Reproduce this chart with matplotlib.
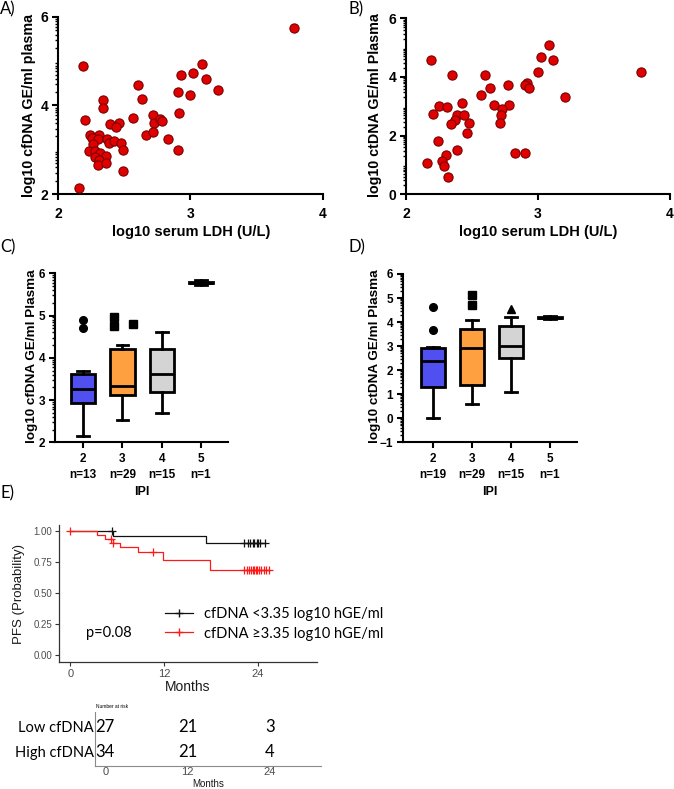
import numpy as np
import matplotlib
matplotlib.use("Agg")
import matplotlib.pyplot as plt
from matplotlib.lines import Line2D
from matplotlib.font_manager import FontProperties

W, H = 674, 789

# ---- Panel A: log10 LDH vs log10 cfDNA ----
ldh_a = [3.78, 3.087, 3.016, 2.928, 3.115, 3.21, 2.908, 2.999, 2.913,
         2.186, 2.601, 2.636, 2.342, 2.337, 2.201, 2.563, 2.72, 2.727,
         2.77, 2.787, 2.392, 2.458, 2.438, 2.664, 2.714, 2.83, 2.244,
         2.309, 2.254, 2.299, 2.367, 2.387, 2.42, 2.478, 2.267, 2.236,
         2.277, 2.493, 2.314, 2.282, 2.365, 2.312, 2.305, 2.365, 2.493,
         2.161, 2.908]
cfdna_a = [5.75, 4.94, 4.74, 4.70, 4.59, 4.35, 4.30, 4.23, 3.84,
           4.89, 4.46, 4.15, 4.13, 3.94, 3.67, 3.72, 3.79, 3.61,
           3.69, 3.66, 3.58, 3.61, 3.52, 3.34, 3.39, 3.24, 3.34,
           3.34, 3.27, 3.25, 3.24, 3.16, 3.20, 3.15, 3.14, 2.98,
           2.98, 2.99, 2.93, 2.84, 2.86, 2.77, 2.66, 2.69, 2.53,
           2.14, 2.99]

# ---- Panel B: log10 LDH vs log10 ctDNA ----
ldh_b = [3.78, 3.087, 3.02, 3.115, 2.999, 2.19, 2.346, 2.60, 2.915, 2.905,
         2.93, 2.77, 2.638, 2.565, 3.208, 2.424, 2.663, 2.784, 2.73, 2.247,
         2.31, 2.204, 2.388, 2.439, 2.719, 2.368, 2.34, 2.479, 2.711, 2.459,
         2.245, 2.39, 2.827, 2.905, 2.303, 2.159, 2.275, 2.285, 2.318]
ctdna_b = [4.17, 5.10, 4.68, 4.58, 4.17, 4.59, 4.06, 4.06, 3.80, 3.73,
           3.64, 3.72, 3.61, 3.40, 3.32, 3.11, 3.05, 3.06, 2.91, 3.01,
           2.98, 2.74, 2.69, 2.69, 2.69, 2.52, 2.40, 2.44, 2.42, 2.08,
           1.81, 1.52, 1.40, 1.42, 1.35, 1.08, 1.14, 0.97, 0.59]

# ---- Panels C/D: box plots by IPI ----
ipi = [2, 3, 4, 5]
n_c = [13, 29, 15, 1]
n_d = [19, 29, 15, 1]
box_colors = ["#5050f0", "#ffa040", "#d4d4d4", "#ffffff"]

c_lo = [2.15, 2.53, 2.69, 5.72]
c_q1 = [2.92, 3.11, 3.18, 5.76]
c_med = [3.27, 3.33, 3.61, 5.78]
c_q3 = [3.61, 4.22, 4.21, 5.80]
c_hi = [3.68, 4.31, 4.61, 5.84]
c_out_grp = [2, 2, 3, 3, 3]
c_out_val = [4.90, 4.70, 4.96, 4.75, 4.79]
c_out_shift = [0, 0, -0.22, -0.22, 0.27]
c_out_mark = ["o", "o", "s", "s", "s"]

d_lo = [0.01, 0.59, 1.10, 4.12]
d_q1 = [1.31, 1.38, 2.50, 4.15]
d_med = [2.39, 2.91, 2.99, 4.17]
d_q3 = [2.91, 3.70, 3.82, 4.20]
d_hi = [2.95, 4.07, 4.20, 4.24]
d_out_grp = [2, 2, 3, 3, 4]
d_out_val = [4.61, 3.66, 5.14, 4.72, 4.54]
d_out_shift = [0, 0, 0, 0, 0]
d_out_mark = ["o", "o", "s", "s", "^"]

# ---- Panel E: Kaplan-Meier ----
low_t = [0, 5.5, 17.4]
low_s = [1.0, 0.963, 0.909]
low_end = 24.9
low_cens = [5.3, 22.2, 22.7, 23.0, 23.3, 23.5, 23.8, 24.0, 24.3, 24.9]
high_t = [0, 3.35, 4.4, 5.4, 6.3, 8.6, 11.8, 17.9]
high_s = [1.0, 0.971, 0.938, 0.905, 0.872, 0.836, 0.77, 0.69]
high_end = 25.4
high_cens = [0, 5.2, 5.45, 10.6, 22.2, 22.6, 22.9, 23.1, 23.3, 23.5,
             23.7, 23.9, 24.1, 24.4, 24.7, 25.0, 25.4]
risk_t = [0, 12, 24]
risk_low = [27, 21, 3]
risk_high = [34, 21, 4]

ARIAL = "Liberation Sans"
CALIBRI = ["Lato", "DejaVu Sans"]
plt.rcParams["font.family"] = ARIAL


def px_axes(fig, left, top, right, bottom):
    return fig.add_axes([left / W, 1 - bottom / H,
                         (right - left) / W, (bottom - top) / H])


def ftext(fig, x, y, s, **kw):
    return fig.text(x / W, 1 - y / H, s, **kw)


def log_minor(lo, hi):
    out = []
    for n in range(lo, hi):
        out += [n + np.log10(k) for k in range(2, 10)]
    return out


def prism(ax, size):
    for s in ["top", "right"]:
        ax.spines[s].set_visible(False)
    for s in ["left", "bottom"]:
        ax.spines[s].set_linewidth(1.5)
    ax.tick_params(which="major", length=4, width=1.5, labelsize=size, pad=3)
    ax.tick_params(which="minor", length=2.5, width=1)
    ax.tick_params(axis="x", which="major", pad=5)
    for lab in ax.get_xticklabels() + ax.get_yticklabels():
        lab.set_fontweight("bold")


fig = plt.figure(figsize=(W / 100, H / 100), dpi=100)

# ---------- A ----------
axA = px_axes(fig, 58, 17, 323, 194)
axA.scatter(ldh_a, cfdna_a, s=44, c="#e00000", edgecolors="#7a0000",
            linewidths=0.8, clip_on=False, zorder=3)
axA.set_xlim(2, 4)
axA.set_ylim(2, 6)
axA.set_xticks([2, 3, 4])
axA.set_yticks([2, 4, 6])
axA.set_yticks(log_minor(2, 6), minor=True)
prism(axA, 10)
ftext(fig, 0, 9, "A)", fontsize=12, family=CALIBRI, va="center")
ftext(fig, 29, 105, "log10 cfDNA GE/ml plasma", rotation=90, ha="center",
      va="center", fontsize=10.3, fontweight="bold")
ftext(fig, 191, 232, "log10 serum LDH (U/L)", ha="center", va="center",
      fontsize=10.5, fontweight="bold")

# ---------- B ----------
axB = px_axes(fig, 406, 18.3, 670, 194.3)
axB.scatter(ldh_b, ctdna_b, s=44, c="#e00000", edgecolors="#7a0000",
            linewidths=0.8, clip_on=False, zorder=3)
axB.set_xlim(2, 4)
axB.set_ylim(0, 6)
axB.set_xticks([2, 3, 4])
axB.set_yticks([0, 2, 4, 6])
axB.set_yticks(log_minor(0, 6), minor=True)
prism(axB, 10)
ftext(fig, 349, 9, "B)", fontsize=12, family=CALIBRI, va="center")
ftext(fig, 375, 105, "log10 ctDNA GE/ml Plasma", rotation=90, ha="center",
      va="center", fontsize=10.3, fontweight="bold")
ftext(fig, 538, 232, "log10 serum LDH (U/L)", ha="center", va="center",
      fontsize=10.5, fontweight="bold")


# ---------- C / D ----------
def box_panel(ax, lo, q1, med, q3, hi, grp, val, shift, mark, ns):
    stats = [dict(whislo=a, q1=b, med=c, q3=d, whishi=e, fliers=[])
             for a, b, c, d, e in zip(lo, q1, med, q3, hi)]
    bp = ax.bxp(stats, positions=ipi, widths=0.62, patch_artist=True,
                showfliers=False, capwidths=0.3,
                boxprops=dict(linewidth=2, edgecolor="black"),
                whiskerprops=dict(linewidth=2),
                capprops=dict(linewidth=2),
                medianprops=dict(linewidth=2, color="black"))
    for patch, col in zip(bp["boxes"], box_colors):
        patch.set_facecolor(col)
    for g, v, sh, m in zip(grp, val, shift, mark):
        ax.plot(g + sh, v, marker=m, color="black", markersize=5.5,
                linestyle="none", clip_on=False)
    ax.set_xticks(ipi)
    ax.set_xticklabels([f"{g}\nn={n}" for g, n in zip(ipi, ns)],
                       linespacing=1.35)


axC = px_axes(fig, 55, 273.3, 228, 442.3)
box_panel(axC, c_lo, c_q1, c_med, c_q3, c_hi, c_out_grp, c_out_val,
          c_out_shift, c_out_mark, n_c)
axC.set_xlim(1.28, 5.69)
axC.set_ylim(2, 6)
axC.set_yticks([2, 3, 4, 5, 6])
axC.set_yticks(log_minor(2, 6), minor=True)
prism(axC, 8.5)
axC.tick_params(axis="x", pad=4)
ftext(fig, 0, 247, "C)", fontsize=12, family=CALIBRI, va="center")
ftext(fig, 32, 356, "log10 cfDNA GE/ml Plasma", rotation=90, ha="center",
      va="center", fontsize=9.7, fontweight="bold")
ftext(fig, 141.5, 492, "IPI", ha="center", va="center", fontsize=9,
      fontweight="bold")

axD = px_axes(fig, 402.7, 274, 577, 442.3)
box_panel(axD, d_lo, d_q1, d_med, d_q3, d_hi, d_out_grp, d_out_val,
          d_out_shift, d_out_mark, n_d)
axD.set_xlim(1.23, 5.69)
axD.set_ylim(-1, 6)
axD.set_yticks(range(-1, 7))
axD.set_yticks(log_minor(-1, 6), minor=True)
prism(axD, 8.5)
axD.tick_params(axis="x", pad=4)
ftext(fig, 349, 247, "D)", fontsize=12, family=CALIBRI, va="center")
ftext(fig, 375, 356, "log10 ctDNA GE/ml Plasma", rotation=90, ha="center",
      va="center", fontsize=9.7, fontweight="bold")
ftext(fig, 490, 492, "IPI", ha="center", va="center", fontsize=9,
      fontweight="bold")

# ---------- E: KM ----------
ftext(fig, 0, 493, "E)", fontsize=12, family=CALIBRI, va="center")
axE = px_axes(fig, 58.7, 525, 316.7, 661.7)


def surv_at(t, times, surv):
    i = np.searchsorted(times, t, side="right") - 1
    return np.asarray(surv)[i]


for times, surv, end, cens, col in [
        (low_t, low_s, low_end, low_cens, "#111111"),
        (high_t, high_s, high_end, high_cens, "#ff1a1a")]:
    tt = list(times) + [end]
    ss = list(surv) + [surv[-1]]
    axE.step(tt, ss, where="post", color=col, lw=0.9)
    axE.plot(cens, surv_at(cens, times, surv), "+", color=col,
             markersize=6, mew=0.9, clip_on=False)

axE.set_xlim(-1.5, 31.5)
axE.set_ylim(-0.05, 1.05)
axE.set_xticks([0, 12, 24])
axE.set_yticks([0, 0.25, 0.5, 0.75, 1.0])
axE.set_yticklabels(["0.00", "0.25", "0.50", "0.75", "1.00"])
for s in ["top", "right"]:
    axE.spines[s].set_visible(False)
for s in ["left", "bottom"]:
    axE.spines[s].set_linewidth(0.9)
    axE.spines[s].set_color("#333333")
axE.tick_params(length=3, width=0.8, color="#333333", labelcolor="#4d4d4d")
axE.tick_params(axis="y", labelsize=7, pad=1.5)
axE.tick_params(axis="x", labelsize=8, pad=2)
ftext(fig, 19, 594, "PFS (Probability)", rotation=90, ha="center",
      va="center", fontsize=9.5, color="#1a1a1a")
ftext(fig, 188, 687, "Months", ha="center", va="center", fontsize=10,
      color="#1a1a1a")

leg_prop = FontProperties(family=CALIBRI, size=10.5)
handles = [Line2D([], [], color="#111111", lw=0.9, marker="+", markersize=6),
           Line2D([], [], color="#ff1a1a", lw=0.9, marker="+", markersize=6)]
axE.legend(handles, ["cfDNA <3.35 log10 hGE/ml", "cfDNA \u22653.35 log10 hGE/ml"],
           loc="center left", bbox_to_anchor=(165 / W, 1 - 624 / H),
           bbox_transform=fig.transFigure, frameon=False, numpoints=1,
           handlelength=1.9, handletextpad=0.8, labelspacing=0.35,
           borderpad=0, borderaxespad=0, prop=leg_prop)
ftext(fig, 86, 633, "p=0.08", va="center", ha="left", fontsize=10.5,
      family=CALIBRI)

# ---------- risk table ----------
axT = px_axes(fig, 95.0, 711.7, 321.4, 766)
axT.set_xlim(-1.5, 31.5)
axT.set_ylim(-0.57, 1.6)
for t, a, b in zip(risk_t, risk_low, risk_high):
    axT.text(t, 1, str(a), ha="center", va="center", fontsize=12,
             family=CALIBRI)
    axT.text(t, 0, str(b), ha="center", va="center", fontsize=12,
             family=CALIBRI)
axT.set_yticks([1, 0])
axT.set_yticklabels(["Low cfDNA", "High cfDNA"], family=CALIBRI, fontsize=10.5)
axT.set_xticks(risk_t)
axT.tick_params(length=0)
axT.tick_params(axis="y", pad=1)
axT.tick_params(axis="x", labelsize=8, labelcolor="#4d4d4d", pad=1)
for s in ["top", "right"]:
    axT.spines[s].set_visible(False)
for s in ["left", "bottom"]:
    axT.spines[s].set_color("#8a8a8a")
    axT.spines[s].set_linewidth(0.8)
ftext(fig, 96, 707, "Number at risk", fontsize=3.5, va="center")
ftext(fig, 208, 784, "Months", ha="center", va="center", fontsize=7,
      color="#1a1a1a")

fig.savefig("out.png", dpi=100)
